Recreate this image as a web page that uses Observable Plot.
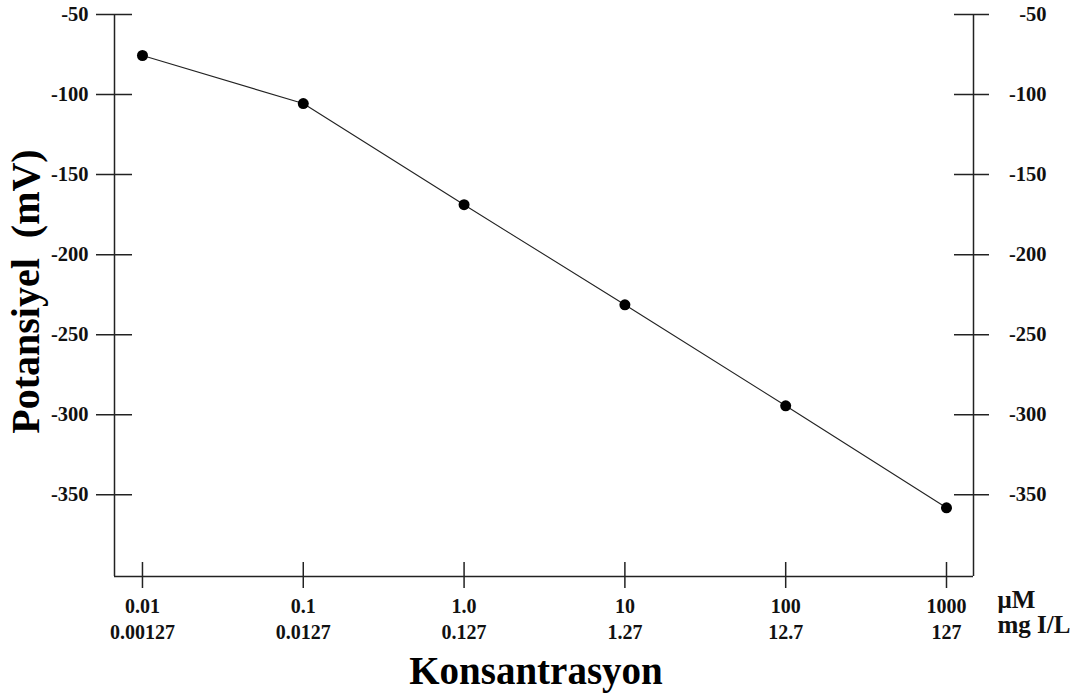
<!DOCTYPE html>
<html>
<head>
<meta charset="utf-8">
<script src="https://cdn.jsdelivr.net/npm/d3@7"></script>
<script src="https://cdn.jsdelivr.net/npm/@observablehq/plot@0.6"></script>
<style>
  html, body { margin: 0; padding: 0; background: #fff; }
  #chart svg { display: block; }
</style>
</head>
<body>
<div id="chart"></div>
<script>
// Data
const concUM = [0.01, 0.1, 1, 10, 100, 1000];
const umLabels = ["0.01", "0.1", "1.0", "10", "100", "1000"];
const mgLabels = ["0.00127", "0.0127", "0.127", "1.27", "12.7", "127"];
const potential = [-75.6, -105.6, -168.8, -231.3, -294.4, -358.1];
const yTicks = [-50, -100, -150, -200, -250, -300, -350];
const xDomain = [0.0067, 1472];
const yDomain = [-401, -50];

const rows = concUM.map((c, i) => ({c, v: potential[i]}));
const font = "'Liberation Serif', 'Times New Roman', serif";

const chart = Plot.plot({
  width: 1085,
  height: 695,
  marginLeft: 114,
  marginRight: 112,
  marginTop: 14,
  marginBottom: 119,
  style: {background: "#fff", fontFamily: font},
  x: {type: "log", domain: xDomain, axis: null},
  y: {domain: yDomain, axis: null},
  marks: [
    // frame: left, right, bottom
    Plot.ruleX([xDomain[0], xDomain[1]], {x: d => d, stroke: "#222", strokeWidth: 1.5}),
    Plot.ruleY([yDomain[0]], {y: d => d, stroke: "#222", strokeWidth: 1.5}),
    // crossing ticks on left and right axes
    Plot.ruleY(yTicks, {y: d => d, x1: () => xDomain[0], x2: () => xDomain[0], insetLeft: -18, insetRight: -18, stroke: "#222", strokeWidth: 1.5}),
    Plot.ruleY(yTicks, {y: d => d, x1: () => xDomain[1], x2: () => xDomain[1], insetLeft: -19, insetRight: -16, stroke: "#222", strokeWidth: 1.5}),
    // crossing ticks on bottom axis
    Plot.ruleX(concUM, {x: d => d, y1: () => yDomain[0], y2: () => yDomain[0], insetTop: -14, insetBottom: -12, stroke: "#222", strokeWidth: 1.5}),
    // y tick labels
    Plot.text(yTicks, {y: d => d, text: d => String(d), frameAnchor: "left", dx: -26, textAnchor: "end", lineAnchor: "middle", fontSize: 20.5, fontWeight: "bold", fill: "#111"}),
    Plot.text(yTicks, {y: d => d, text: d => String(d), frameAnchor: "right", dx: 73, textAnchor: "end", lineAnchor: "middle", fontSize: 20.5, fontWeight: "bold", fill: "#111"}),
    // x tick labels (two lines)
    Plot.text(concUM, {x: d => d, text: (d, i) => umLabels[i] + "\n" + mgLabels[i], frameAnchor: "bottom", textAnchor: "middle", lineAnchor: "top", dy: 18, lineHeight: 1.3, fontSize: 20, fontWeight: "bold", fill: "#111"}),
    // unit labels
    Plot.text(["μM\nmg I/L"], {frameAnchor: "bottom-right", text: d => d, textAnchor: "start", lineAnchor: "top", dx: 24, dy: 14, lineHeight: 1.0, fontSize: 25, fontWeight: "bold", fill: "#111"}),
    // axis titles
    Plot.text(["Konsantrasyon"], {frameAnchor: "bottom", text: d => d, textAnchor: "middle", lineAnchor: "middle", dx: -8, dy: 95, fontSize: 39, fontWeight: "bold", fill: "#000"}),
    Plot.text(["Potansiyel  (mV)"], {frameAnchor: "left", text: d => d, textAnchor: "middle", lineAnchor: "middle", rotate: -90, dx: -88, dy: -4, fontSize: 40, fontWeight: "bold", fill: "#000"}),
    // data
    Plot.line(rows, {x: "c", y: "v", stroke: "#222", strokeWidth: 1.1}),
    Plot.dot(rows, {x: "c", y: "v", r: 5.5, fill: "#000", stroke: "none"})
  ]
});
document.getElementById("chart").append(chart);
</script>
</body>
</html>
